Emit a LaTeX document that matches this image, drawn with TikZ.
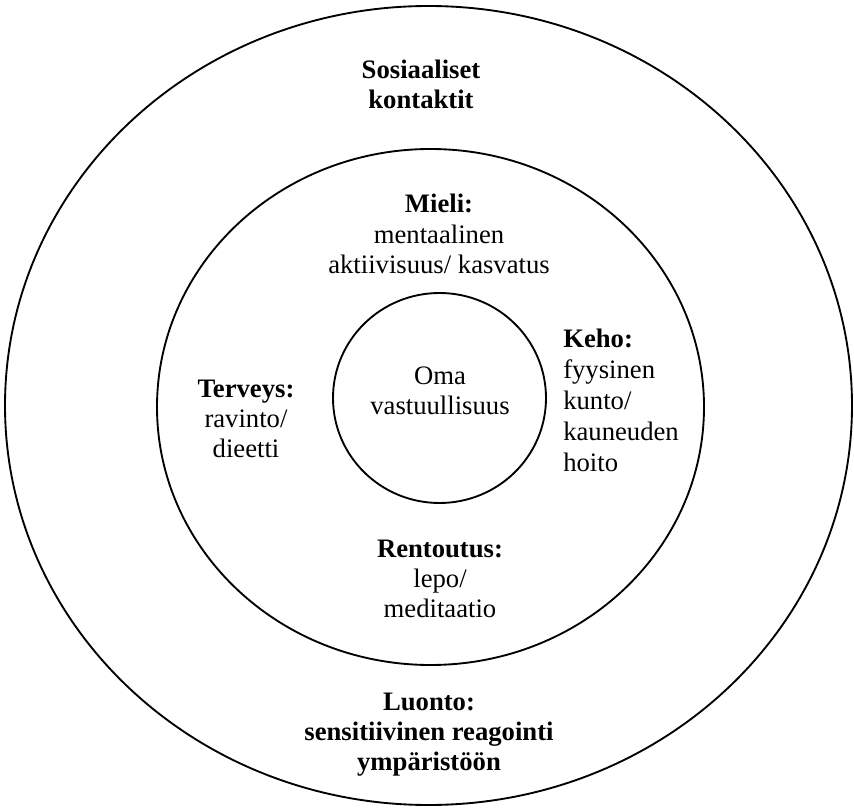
\documentclass[tikz,border=0pt]{standalone}
\usepackage{fontspec}
\setmainfont{Liberation Serif}
\usetikzlibrary{shapes.geometric}
\begin{document}
\begin{tikzpicture}[x=0.75pt,y=-0.75pt,
  ring/.style={draw, ellipse, line width=1.4pt, inner sep=0pt},
  label/.style={align=center, inner sep=0pt, font=\fontsize{20}{22.6}\selectfont},
  lefttext/.style={align=left, inner sep=0pt, anchor=west, font=\fontsize{20}{23.2}\selectfont}]
\useasboundingbox (0,0) rectangle (854,809);

% three nested rings
\node[ring, minimum width=635.25pt, minimum height=599.25pt] (outer) at (428.5,405.5) {};
\node[ring, minimum width=410.25pt, minimum height=387pt] (middle) at (430.5,407) {};
\node[ring, minimum width=159.75pt, minimum height=157.5pt] (inner) at (439.5,398) {};

% outer ring
\node[label] (social) at (421,84.5) {\textbf{Sosiaaliset}\\\textbf{kontaktit}};
\node[label] (nature) at (429,735) {\textbf{Luonto:}\\\textbf{sensitiivinen reagointi}\\\textbf{ympäristöön}};

% middle ring
\node[label] (mind) at (439,234) {\textbf{Mieli:}\\mentaalinen\\aktiivisuus/ kasvatus};
\node[label] (health) at (246,419) {\textbf{Terveys:}\\ravinto/\\dieetti};
\node[lefttext] (body) at (563,400.5) {\textbf{Keho:}\\fyysinen\\kunto/\\kauneuden\\hoito};
\node[label] (rest) at (440,579) {\textbf{Rentoutus:}\\lepo/\\meditaatio};

% centre
\node[label] (self) at (440,391) {Oma\\vastuullisuus};
\end{tikzpicture}
\end{document}
